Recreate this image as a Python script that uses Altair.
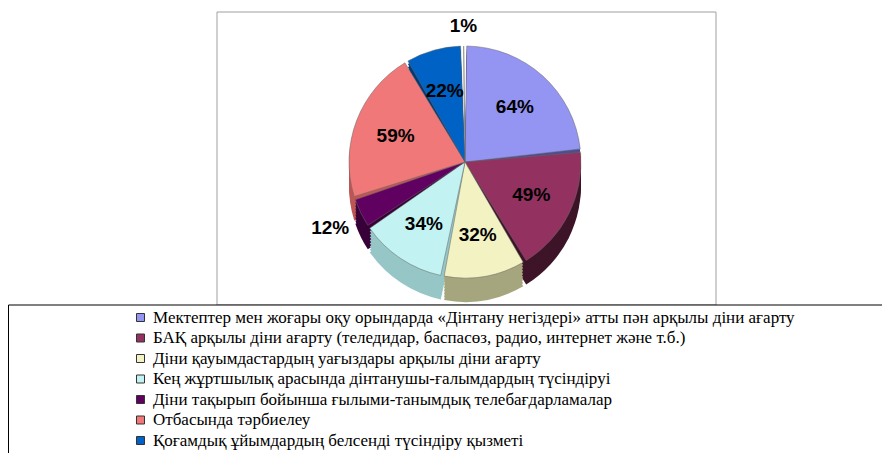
import altair as alt
import pandas as pd

categories = [
    "Мектептер мен жоғары оқу орындарда «Дінтану негіздері» атты пән арқылы діни ағарту",
    "БАҚ арқылы діни ағарту (теледидар, баспасөз, радио, интернет және т.б.)",
    "Діни қауымдастардың уағыздары арқылы діни ағарту",
    "Кең жұртшылық арасында дінтанушы-ғалымдардың түсіндіруі",
    "Діни тақырып бойынша ғылыми-танымдық телебағдарламалар",
    "Отбасында тәрбиелеу",
    "Қоғамдық ұйымдардың белсенді түсіндіру қызметі",
    "Басқа",
]
values = [64, 49, 32, 34, 12, 59, 22, 1]
labels = ["64%", "49%", "32%", "34%", "12%", "59%", "22%", "1%"]

top_colors = ["#9494F2", "#933260", "#F2F2C2", "#C2F2F2", "#600060", "#F07878", "#0062C4", "#CCCCFF"]
side_colors = ["#4E4E8E", "#3E1428", "#A6A67E", "#96C6C6", "#380038", "#BE5656", "#003A76", "#8888BB"]

df = pd.DataFrame({
    "category": categories,
    "value": values,
    "label": labels,
    "idx": list(range(len(values))),
})
box = pd.DataFrame({"a": [0]})

CX, CY, R, DEPTH = 457, 154, 116, 24
PAD = 0.03
label_font = "Liberation Sans"

theta = alt.Theta("value:Q", stack=True)
order = alt.Order("idx:Q")
base = alt.Chart(df)

plot_box = alt.Chart(box).mark_rect(fill="white", stroke="#A0A0A0", strokeWidth=1).encode(
    x=alt.value(209), x2=alt.value(708), y=alt.value(4), y2=alt.value(297)
)
legend_box = alt.Chart(box).mark_rect(fill="white", stroke="#000000", strokeWidth=1).encode(
    x=alt.value(0.5), x2=alt.value(900), y=alt.value(297), y2=alt.value(500)
)

layers = [plot_box, legend_box]
for off in range(DEPTH, 0, -3):
    layers.append(
        base.mark_arc(outerRadius=R, padAngle=PAD).encode(
            theta=theta,
            order=order,
            color=alt.Color(
                "category:N",
                scale=alt.Scale(domain=categories, range=side_colors),
                legend=None,
            ),
            x=alt.value(CX),
            y=alt.value(CY + off),
        )
    )

top = base.mark_arc(outerRadius=R, padAngle=PAD, stroke="#666666", strokeWidth=0.5).encode(
    theta=theta,
    order=order,
    color=alt.Color(
        "category:N",
        title=None,
        scale=alt.Scale(domain=categories, range=top_colors),
        legend=alt.Legend(
            values=categories[:7],
            orient="none",
            legendX=124,
            legendY=301,
            symbolType="square",
            symbolSize=64,
            symbolStrokeColor="#333333",
            symbolStrokeWidth=1,
            labelFont="Liberation Serif",
            labelFontSize=17,
            labelColor="#000000",
            labelLimit=900,
            labelOffset=4,
            rowPadding=2.5,
            padding=0,
        ),
    ),
    x=alt.value(CX),
    y=alt.value(CY),
)
layers.append(top)


def text_layer(cond, radius):
    return base.mark_text(
        radius=radius, font=label_font, fontSize=19, fontWeight="bold", color="#000000"
    ).encode(
        theta=theta,
        order=order,
        text=alt.condition(cond, alt.Text("label:N"), alt.value("")),
        x=alt.value(CX),
        y=alt.value(CY),
    )


layers += [
    text_layer(alt.datum.value >= 20, R * 0.64),
    text_layer((alt.datum.value < 20) & (alt.datum.value >= 5), R + 34),
    text_layer(alt.datum.value < 5, R + 20),
]

chart = (
    alt.layer(*layers)
    .resolve_scale(color="independent")
    .properties(width=874, height=445, padding=0, autosize=alt.AutoSizeParams(type="none"))
    .configure_view(strokeWidth=0)
)

chart.save("out.html", embed_options={"renderer": "svg", "actions": False})
